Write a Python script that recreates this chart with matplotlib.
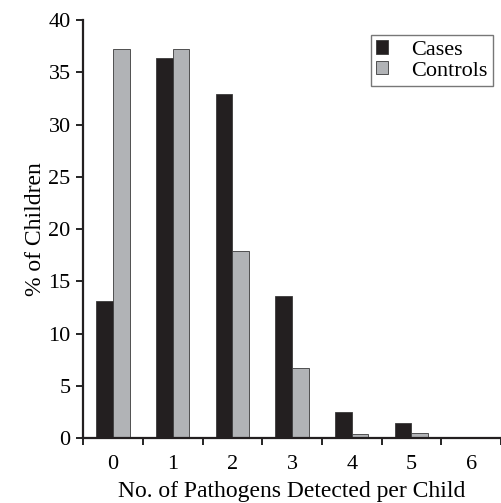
import numpy as np
import matplotlib.pyplot as plt

categories = ['0', '1', '2', '3', '4', '5', '6']
cases = [13.1, 36.4, 32.9, 13.6, 2.5, 1.4, 0]
controls = [37.2, 37.2, 17.9, 6.7, 0.4, 0.5, 0]

plt.rcParams['font.family'] = 'Liberation Serif'

fig = plt.figure(figsize=(5.01, 5.03), dpi=100)
ax = fig.add_axes([0.166, 0.129, 0.834, 0.831])

x = np.arange(len(categories))
w = 0.28
ax.bar(x - w / 2, cases, w, color='#231f20', edgecolor='#3a3a3a', linewidth=0.6, label='Cases')
ax.bar(x + w / 2, controls, w, color='#b1b3b6', edgecolor='#3a3a3a', linewidth=0.6, label='Controls')

ax.set_xlim(-0.5, 6.5)
ax.set_ylim(0, 40)
ax.set_yticks(range(0, 41, 5))
ax.set_xticks(x)
ax.set_xticklabels(categories)
ax.set_xticks(np.arange(-0.5, 6.6, 1), minor=True)
ax.tick_params(axis='x', which='major', length=0, pad=12, labelsize=16)
ax.tick_params(axis='x', which='minor', length=5, width=1.2, direction='out')
ax.tick_params(axis='y', length=5, width=1.2, direction='out', labelsize=16, pad=4)

for s in ['top', 'right']:
    ax.spines[s].set_visible(False)
for s in ['left', 'bottom']:
    ax.spines[s].set_linewidth(1.6)
    ax.spines[s].set_color('#231f20')

ax.set_xlabel('No. of Pathogens Detected per Child', fontsize=17, labelpad=5)
ax.set_ylabel('% of Children', fontsize=17, labelpad=2)

leg = ax.legend(loc='upper right', bbox_to_anchor=(0.98, 0.965), fontsize=16, frameon=True,
                fancybox=False, edgecolor='#555555', handlelength=0.55, handleheight=0.55,
                handletextpad=1.0, borderpad=0.25, labelspacing=0.05, borderaxespad=0)
leg.get_frame().set_linewidth(1.0)

fig.savefig('out.png', dpi=100)
